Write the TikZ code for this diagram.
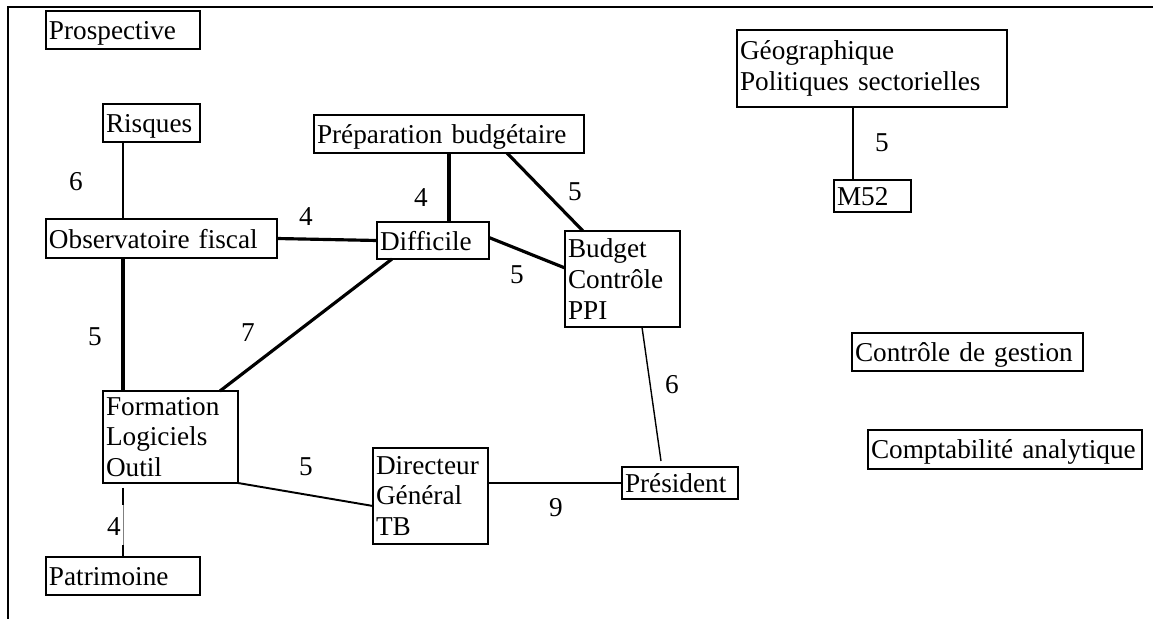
\documentclass[tikz,border=0pt]{standalone}
\usepackage{fontspec}
\setmainfont{Liberation Serif}
\usetikzlibrary{calc}

\tikzset{
  box/.style={draw, line width=1.1pt, anchor=north west, outer sep=0pt,
              inner xsep=0.06cm, inner ysep=0pt, align=left},
  onebox/.style={box, text depth=0pt},
  heavy/.style={line width=1.8pt},
  light/.style={line width=0.8pt},
  medium/.style={line width=1.1pt},
  num/.style={inner sep=0pt}
}

\begin{document}
\begin{tikzpicture}[x=0.02cm, y=-0.02cm, font=\fontsize{15.5}{17.5}\selectfont]
  \useasboundingbox (0,0) rectangle (1153,619);
  % frame
  \draw[medium] (1153,7) -- (8,7) -- (8,619);

  % boxes
  \node[onebox, text width=2.96cm, minimum height=0.76cm] (prosp) at (46,11) {Prospective};
  \node[onebox, text width=1.82cm, minimum height=0.76cm] (risq) at (103,104) {Risques};
  \node[onebox, text width=4.50cm, minimum height=0.78cm] (obs) at (46,219) {Observatoire fiscal};
  \node[onebox, text width=5.28cm, minimum height=0.76cm] (prep) at (314,115) {Préparation budgétaire};
  \node[onebox, text width=2.12cm, minimum height=0.74cm] (diff) at (377,222) {Difficile};
  \node[box, text width=2.18cm, minimum height=1.92cm] (budg) at (565,231) {Budget\\Contrôle\\PPI};
  \node[box, text width=2.58cm, minimum height=1.84cm] (form) at (103,391) {Formation\\Logiciels\\Outil};
  \node[onebox, text width=2.96cm, minimum height=0.76cm] (patr) at (46,557) {Patrimoine};
  \node[box, text width=2.18cm, minimum height=1.92cm] (dir) at (373,448) {Directeur\\Général\\TB};
  \node[onebox, text width=2.20cm, minimum height=0.64cm] (pres) at (622,467) {Président};
  \node[box, text width=5.28cm, minimum height=1.54cm] (geo) at (737,30) {Géographique\\Politiques sectorielles};
  \node[onebox, text width=1.42cm, minimum height=0.64cm] (mcin) at (834,180) {M52};
  \node[onebox, text width=4.50cm, minimum height=0.76cm] (ctrl) at (852,333) {Contrôle de gestion};
  \node[onebox, text width=5.36cm, minimum height=0.78cm] (compta) at (868,430) {Comptabilité analytique};

  % anchor points on the boxes
  \coordinate (rq) at ([xshift=0.4cm]risq.south west);
  \coordinate (of) at ([xshift=0.4cm]form.north west);
  \coordinate (pf) at ([xshift=0.4cm, yshift=-0.1cm]form.south west);
  \coordinate (pd) at ([xshift=1.44cm]diff.north west);
  \coordinate (gm) at ([xshift=0.38cm]mcin.north west);

  % links
  \draw[light] (rq) -- (rq |- obs.north);
  \draw[heavy] (of |- obs.south) -- (of);
  \draw[gray, line width=0.5pt] (pf) -- (pf |- patr.north);
  \draw[medium, dash pattern=on 0.34cm off 0.8cm on 1cm] (pf) -- (pf |- patr.north);
  \draw[heavy] (obs.east) -- (diff.west);
  \draw[heavy] ([xshift=0.3cm]diff.south west) -- ([xshift=-0.36cm]form.north east);
  \draw[heavy] (pd |- prep.south) -- (pd);
  \draw[heavy] ([xshift=3.86cm]prep.south west) -- ([xshift=0.36cm]budg.north west);
  \draw[heavy] ([yshift=0.06cm]diff.east) -- ([yshift=0.22cm]budg.west);
  \draw[light] ([xshift=1.54cm]budg.south west) -- ([xshift=0.78cm, yshift=0.12cm]pres.north west);
  \draw[light] (pres.west) -- (pres.west -| dir.east);
  \draw[medium] (form.south east) -- ([yshift=-0.2cm]dir.west);
  \draw[medium] (gm |- geo.south) -- (gm);

  % weights
  \node[num] (w1) at (76,182) {6};
  \node[num] (w2) at (95,337) {5};
  \node[num] (w3) at (306,217) {4};
  \node[num] (w4) at (248,333) {7};
  \node[num] (w5) at (421,198) {4};
  \node[num] (w6) at (575,192) {5};
  \node[num] (w7) at (517,275) {5};
  \node[num] (w8) at (672,385) {6};
  \node[num] (w9) at (306,467) {5};
  \node[num] (w10) at (556,508) {9};
  \node[num] (w11) at (114,527) {4};
  \node[num] (w12) at (882,143) {5};
\end{tikzpicture}
\end{document}
